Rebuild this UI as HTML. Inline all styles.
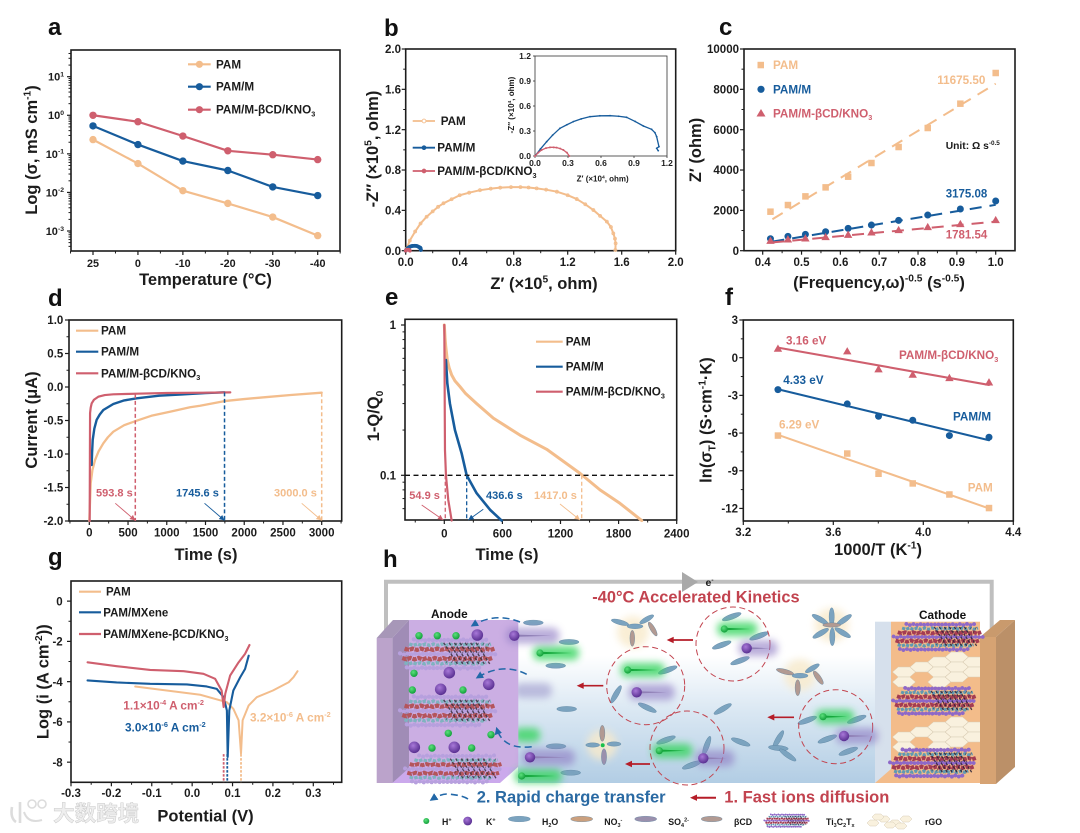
<!DOCTYPE html>
<html lang="en">
<head>
<meta charset="utf-8">
<title>Electrochemical characterisation figure</title>
<style>
html,body{margin:0;padding:0;background:#fff;width:1080px;height:833px;overflow:hidden}
svg{display:block;filter:blur(.35px)}
text{font-family:"Liberation Sans","Noto Sans CJK SC",sans-serif;font-weight:bold}
</style>
</head>
<body>
<svg id="figure" xmlns="http://www.w3.org/2000/svg" width="1080" height="833" viewBox="0 0 1080 833">
  <defs>
    <marker id="arO" markerWidth="7" markerHeight="7" refX="6" refY="3" orient="auto"><path d="M0 0L6 3L0 6Z" fill="#f3bd8c"/></marker>
    <marker id="arB" markerWidth="7" markerHeight="7" refX="6" refY="3" orient="auto"><path d="M0 0L6 3L0 6Z" fill="#175c9c"/></marker>
    <marker id="arR" markerWidth="7" markerHeight="7" refX="6" refY="3" orient="auto"><path d="M0 0L6 3L0 6Z" fill="#cf5f6e"/></marker>
    <marker id="arD" markerWidth="6" markerHeight="6" refX="4" refY="2.5" orient="auto"><path d="M0 0L5 2.5L0 5Z" fill="#2268a8"/></marker>
    <linearGradient id="bgGrad" x1="0" y1="0" x2="0" y2="1">
      <stop offset="0" stop-color="#ffffff"/><stop offset=".22" stop-color="#ffffff"/><stop offset=".55" stop-color="#dbe8f3"/><stop offset="1" stop-color="#b2cde4"/>
    </linearGradient>
    <radialGradient id="gDot" cx=".4" cy=".35" r=".7"><stop offset="0" stop-color="#5be07c"/><stop offset="1" stop-color="#0c9a35"/></radialGradient>
    <radialGradient id="kDot" cx=".4" cy=".35" r=".7"><stop offset="0" stop-color="#a878d8"/><stop offset="1" stop-color="#532a8c"/></radialGradient>
    <filter id="soft" x="-40%" y="-80%" width="180%" height="260%"><feGaussianBlur stdDeviation="3.6"/></filter>
  </defs>
</svg>
<script>
// ---------- chart data ----------
const tempLabels = ['25','0','-10','-20','-30','-40'];
const aPam = [0.234,0.056,0.0111,0.0052,0.0023,0.00076];
const aPamM = [0.53,0.174,0.065,0.037,0.0139,0.0083];
const aPamMCd = [1,0.68,0.29,0.12,0.095,0.071];
const aYDecades = [-3,-2,-1,0,1];
const aYLabels = ['10^{-3}','10^{-2}','10^{-1}','10^{0}','10^{1}'];

const bTicks = [0,0.4,0.8,1.2,1.6,2.0];
const bTickLabels = ['0.0','0.4','0.8','1.2','1.6','2.0'];
const bPamZ = [0.007,0.03,0.07,0.11,0.155,0.2,0.24,0.28,0.34,0.40,0.47,0.55,0.63,0.70,0.78,0.85,0.91,0.97,1.04,1.12,1.2,1.267,1.33,1.39,1.44,1.49,1.52,1.538,1.55,1.555,1.553];
const bPamZ2 = [0.02,0.10,0.19,0.27,0.337,0.39,0.435,0.47,0.51,0.55,0.575,0.60,0.615,0.625,0.63,0.63,0.627,0.618,0.605,0.585,0.55,0.512,0.46,0.403,0.345,0.288,0.235,0.172,0.12,0.073,0.007];
const insetBlueZ = [0,0.05,0.106,0.16,0.227,0.29,0.348,0.42,0.5,0.59,0.682,0.76,0.833,0.91,0.985,1.06,1.09,1.106,1.127,1.106,1.12];
const insetBlueZ2 = [0,0.085,0.172,0.25,0.332,0.375,0.412,0.445,0.472,0.482,0.484,0.477,0.464,0.415,0.36,0.32,0.28,0.232,0.112,0.092,0.064];
const insetRedZ = [0,0.03,0.06,0.1,0.136,0.17,0.197,0.23,0.258,0.29,0.312];
const insetRedZ2 = [0,0.04,0.072,0.095,0.104,0.104,0.1,0.088,0.072,0.04,0];
const insetTicks = [0,0.3,0.6,0.9,1.2];
const insetTickLabels = ['0.0','0.3','0.6','0.9','1.2'];

const cFreq = [0.42,0.465,0.51,0.562,0.62,0.68,0.75,0.825,0.909,1.0];
const cPam = [1934,2264,2694,3140,3669,4347,5140,6083,7289,8810];
const cPamM = [595,710,810,942,1107,1272,1504,1768,2066,2463];
const cPamMCd = [496,562,612,678,793,909,1025,1174,1322,1521];
const cFitX = [0.425,1.0];
const cPamFit = [1560,8280];
const cPamMFit = [450,2275];
const cPamMCdFit = [410,1440];
const cXTicks = [0.4,0.5,0.6,0.7,0.8,0.9,1.0];
const cXLabels = ['0.4','0.5','0.6','0.7','0.8','0.9','1.0'];
const cYTicks = [0,2000,4000,6000,8000,10000];
const cYLabels = ['0','2000','4000','6000','8000','10000'];

const dPamT = [0,10,18,40,74,120,181,240,310,450,612,800,1041,1300,1430,1745,2000,2290,2600,3000];
const dPamI = [-2,-1.7,-1.437,-1.24,-1.09,-0.96,-0.84,-0.75,-0.667,-0.57,-0.503,-0.43,-0.369,-0.303,-0.28,-0.21,-0.18,-0.15,-0.12,-0.085];
const dPamMT = [31,36,44,65,95,135,181,310,450,612,900,1200,1500,1745];
const dPamMI = [-1.164,-0.98,-0.79,-0.62,-0.49,-0.41,-0.343,-0.254,-0.2,-0.169,-0.13,-0.11,-0.09,-0.08];
const dPamMCdT = [5,8,10,18,31,60,116,200,310,612,1000,1500,1820];
const dPamMCdI = [-2,-1,-0.39,-0.31,-0.243,-0.19,-0.145,-0.12,-0.109,-0.1,-0.09,-0.085,-0.08];
const dXTicks = [0,500,1000,1500,2000,2500,3000];
const dXLabels = ['0','500','1000','1500','2000','2500','3000'];
const dYTicks = [-2,-1.5,-1,-0.5,0,0.5,1];
const dYLabels = ['-2.0','-1.5','-1.0','-0.5','0.0','0.5','1.0'];
const dEndTimes = [593.8,1745.6,3000];
const dEndCurrents = [-0.11,-0.08,-0.085];

const ePamT = [0,8,15,31,50,76,110,162,220,334,506,782,1057,1402,1608,1815,2039];
const ePamQ = [1,0.82,0.72,0.585,0.52,0.465,0.425,0.389,0.35,0.30,0.24,0.185,0.149,0.103,0.08,0.065,0.05];
const ePamMT = [17,31,58,110,179,231,334,472,592];
const ePamMQ = [0.585,0.41,0.30,0.2,0.14,0.1,0.076,0.059,0.05];
const ePamMCdT = [0,3,5,7,17,41,76];
const ePamMCdQ = [1,0.5,0.25,0.147,0.1,0.0685,0.05];
const eXTicks = [0,600,1200,1800,2400];
const eXLabels = ['0','600','1200','1800','2400'];
const eEndTimes = [10,231,1419];

const fX = [3.354,3.662,3.801,3.953,4.116,4.292];
const fPam = [-6.2,-7.63,-9.24,-10.01,-10.89,-11.97];
const fPamM = [-2.54,-3.68,-4.66,-4.98,-6.2,-6.33];
const fPamMCd = [0.72,0.51,-0.92,-1.35,-1.61,-1.96];
const fFitX = [3.354,4.292];
const fPamFit = [-6.14,-12];
const fPamMFit = [-2.51,-6.57];
const fPamMCdFit = [0.8,-2.17];
const fXTicks = [3.2,3.6,4.0,4.4];
const fXLabels = ['3.2','3.6','4.0','4.4'];
const fYTicks = [-12,-9,-6,-3,0,3];
const fYLabels = ['-12','-9','-6','-3','0','3'];

const gPamV = [-0.141,-0.063,0.02,0.086,0.102,0.115,0.121,0.125,0.14,0.16,0.2,0.239,0.251,0.261];
const gPamL = [-4.24,-4.44,-4.65,-5.02,-5.35,-5.92,-7.57,-5.92,-5.18,-4.77,-4.44,-4.03,-3.78,-3.48];
const gPamMV = [-0.259,-0.187,-0.104,-0.013,0.036,0.061,0.078,0.086,0.088,0.092,0.102,0.119,0.131,0.14];
const gPamML = [-3.94,-4.04,-4.11,-4.14,-4.24,-4.36,-4.77,-5.43,-7.74,-5.43,-4.44,-3.78,-3.37,-2.71];
const gPamMCdV = [-0.259,-0.187,-0.104,-0.021,0.028,0.057,0.073,0.078,0.082,0.094,0.115,0.131,0.142];
const gPamMCdL = [-3.04,-3.23,-3.42,-3.48,-3.61,-3.86,-4.44,-5.26,-4.6,-3.7,-3.04,-2.62,-2.18];
const gEcorr = [0.121,0.087,0.078];
const gXTicks = [-0.3,-0.2,-0.1,0,0.1,0.2,0.3];
const gXLabels = ['-0.3','-0.2','-0.1','0.0','0.1','0.2','0.3'];
const gYTicks = [-8,-6,-4,-2,0];
const gYLabels = ['-8','-6','-4','-2','0'];

// ---------- helpers ----------
const NS = 'http://www.w3.org/2000/svg';
const root = document.getElementById('figure');
const ORANGE = '#f3bd8c', BLUE = '#175c9c', RED = '#cf5f6e', INK = '#1c1c1c';

function el(tag, attrs, parent, name) {
  const e = document.createElementNS(NS, tag);
  for (const k in attrs) e.setAttribute(k, attrs[k]);
  
  
  (parent || root).appendChild(e);
  return e;
}
function linear(d0, d1, r0, r1) { return v => r0 + (v - d0) / (d1 - d0) * (r1 - r0); }
function logY(d0, d1, r0, r1) { return v => r0 + (Math.log10(v) - Math.log10(d0)) / (Math.log10(d1) - Math.log10(d0)) * (r1 - r0); }

function txt(parent, x, y, str, o, name) {
  o = o || {};
  const size = o.size || 11.5;
  const a = { x: x, y: y, 'font-size': size, fill: o.color || INK, 'text-anchor': o.anchor || 'start' };
  if (o.rot) a.transform = 'rotate(' + o.rot + ' ' + x + ' ' + y + ')';
  if (o.len) { a.textLength = o.len; a.lengthAdjust = 'spacingAndGlyphs'; }
  const t = el('text', a, parent, name);
  const parts = str.split(/(\^\{[^}]*\}|_\{[^}]*\})/).filter(s => s.length);
  let cur = 0;
  parts.forEach(p => {
    let target = 0, s = p, fs = size;
    if (p[0] === '^' && p[1] === '{') { target = -0.38 * size; s = p.slice(2, -1); fs = size * 0.62; }
    else if (p[0] === '_' && p[1] === '{') { target = 0.24 * size; s = p.slice(2, -1); fs = size * 0.62; }
    const sp = el('tspan', { dy: (target - cur).toFixed(2), 'font-size': fs.toFixed(2) }, t, name + '-part');
    sp.textContent = s;
    cur = target;
  });
  return t;
}
function panel(name, l, t, r, b, sw) {
  const g = el('g', {}, root, name);
  el('rect', { x: l, y: t, width: r - l, height: b - t, fill: 'none', stroke: INK, 'stroke-width': sw || 1.6 }, g, name + '-frame');
  return g;
}
function xTicks(g, sx, vals, labels, yB, baseline, size, pre) {
  vals.forEach((v, i) => {
    el('line', { x1: sx(v), x2: sx(v), y1: yB, y2: yB + 4, stroke: INK, 'stroke-width': 1.2 }, g, pre + '-x-tick');
    txt(g, sx(v), baseline, labels[i], { size: size || 11.5, anchor: 'middle' }, pre + '-x-tick-label');
  });
}
function yTicks(g, sy, vals, labels, xL, labelX, size, pre) {
  vals.forEach((v, i) => {
    el('line', { x1: xL, x2: xL - 4, y1: sy(v), y2: sy(v), stroke: INK, 'stroke-width': 1.2 }, g, pre + '-y-tick');
    txt(g, labelX, sy(v) + (size || 11.5) * 0.36, labels[i], { size: size || 11.5, anchor: 'end' }, pre + '-y-tick-label');
  });
}
function xMinor(g, sx, vals, yB, pre) {
  vals.forEach(v => { el('line', { x1: sx(v), x2: sx(v), y1: yB, y2: yB + 2.5, stroke: INK, 'stroke-width': 1 }, g, pre + '-x-minor-tick'); });
}
function yMinor(g, sy, vals, xL, pre) {
  vals.forEach(v => { el('line', { x1: xL, x2: xL - 2.5, y1: sy(v), y2: sy(v), stroke: INK, 'stroke-width': 1 }, g, pre + '-y-minor-tick'); });
}
function pathOf(xs, ys, sx, sy) { return xs.map((x, i) => sx(x).toFixed(2) + ',' + sy(ys[i]).toFixed(2)).join(' '); }
function series(g, xs, ys, sx, sy, color, w, name, extra) {
  const a = { points: pathOf(xs, ys, sx, sy), fill: 'none', stroke: color, 'stroke-width': w, 'stroke-linejoin': 'round', 'stroke-linecap': 'round' };
  if (extra) for (const k in extra) a[k] = extra[k];
  return el('polyline', a, g, name);
}
function dots(g, xs, ys, sx, sy, color, r, name, hollow) {
  xs.forEach((x, i) => {
    el('circle', { cx: sx(x), cy: sy(ys[i]), r: r, fill: hollow ? 'none' : color, stroke: color, 'stroke-width': hollow ? 0.8 : 0 }, g, name);
  });
}
function squares(g, xs, ys, sx, sy, color, s, name) {
  xs.forEach((x, i) => {
    el('rect', { x: sx(x) - s / 2, y: sy(ys[i]) - s / 2, width: s, height: s, fill: color }, g, name);
  });
}
function triangles(g, xs, ys, sx, sy, color, s, name) {
  xs.forEach((x, i) => {
    const cx = sx(x), cy = sy(ys[i]);
    el('polygon', { points: cx + ',' + (cy - s * 0.6) + ' ' + (cx - s * 0.6) + ',' + (cy + s * 0.45) + ' ' + (cx + s * 0.6) + ',' + (cy + s * 0.45), fill: color }, g, name);
  });
}
function legendRow(g, x1, x2, y, color, label, textX, w, size, name) {
  el('line', { x1: x1, x2: x2, y1: y, y2: y, stroke: color, 'stroke-width': w }, g, name + '-swatch');
  txt(g, textX, y + 4, label, { size: size || 11.7 }, name + '-label');
}

// ---------- panel letters ----------
[['a',48,35],['b',384,36],['c',719,35],['d',48,306],['e',385,305],['f',725,305],['g',48,565],['h',383,567]].forEach(p => {
  txt(root, p[1], p[2], p[0], { size: 24, color: '#111' }, 'panel-letter-' + p[0]);
});

// ---------- panel a ----------
(function () {
  const g = panel('panel-a-conductivity', 71, 50, 340, 251);
  const sx = linear(0, 5, 93, 317.7);
  const sy = logY(1e-3, 10, 231, 76.7);
  const idx = tempLabels.map((_, i) => i);
  xTicks(g, sx, idx, tempLabels, 251, 267, 10.8, 'a');
  xMinor(g, sx, [-0.5,0.5,1.5,2.5,3.5,4.5,5.5], 251, 'a');
  yTicks(g, sy, aYDecades.map(d => Math.pow(10, d)), aYLabels, 71, 64, 11, 'a');
  const minor = [];
  [-4,-3,-2,-1,0,1].forEach(d => { [2,3,4,5,6,7,8,9].forEach(m => { const v = m * Math.pow(10, d); if (sy(v) < 251 && sy(v) > 50) minor.push(v); }); });
  yMinor(g, sy, minor, 71, 'a');
  [[aPam, ORANGE, 'pam'], [aPamM, BLUE, 'pam-m'], [aPamMCd, RED, 'pam-m-bcd-kno3']].forEach(s => {
    series(g, idx, s[0], sx, sy, s[1], 2.2, 'a-' + s[2] + '-line');
    dots(g, idx, s[0], sx, sy, s[1], 3.7, 'a-' + s[2] + '-point');
  });
  [[64.3, ORANGE, 'PAM'], [86.7, BLUE, 'PAM/M'], [109.7, RED, 'PAM/M-βCD/KNO_{3}']].forEach(r => {
    legendRow(g, 188, 210.7, r[0], r[1], r[2], 216, 2.2, 11.7, 'a-legend-entry');
    el('circle', { cx: 199.4, cy: r[0], r: 3.6, fill: r[1] }, g, 'a-legend-marker');
  });
  txt(g, 37, 150, 'Log (σ, mS cm^{-1})', { size: 16.5, anchor: 'middle', rot: -90 }, 'a-y-axis-title');
  txt(g, 205.5, 285, 'Temperature (°C)', { size: 16.5, anchor: 'middle' }, 'a-x-axis-title');
})();

// ---------- panel b ----------
(function () {
  const g = panel('panel-b-nyquist', 405.7, 49, 675.7, 250.7);
  const sx = linear(0, 2, 405.7, 675.7);
  const sy = linear(0, 2, 250.7, 49);
  xTicks(g, sx, bTicks, bTickLabels, 250.7, 266, 11.5, 'b');
  yTicks(g, sy, bTicks, bTickLabels, 405.7, 401, 11.5, 'b');
  yMinor(g, sy, [0.2,0.6,1.0,1.4,1.8], 405.7, 'b');
  xMinor(g, sx, [0.2,0.6,1.0,1.4,1.8], 250.7, 'b');
  series(g, bPamZ, bPamZ2, sx, sy, ORANGE, 2, 'b-pam-line');
  dots(g, bPamZ, bPamZ2, sx, sy, ORANGE, 1.5, 'b-pam-point', true);
  const bz = insetBlueZ.map(v => v / 10), bz2 = insetBlueZ2.map(v => v / 10);
  const rz = insetRedZ.map(v => v / 10), rz2 = insetRedZ2.map(v => v / 10);
  series(g, bz, bz2, sx, sy, BLUE, 1.8, 'b-pam-m-line');
  dots(g, bz, bz2, sx, sy, BLUE, 1.5, 'b-pam-m-point', true);
  series(g, rz, rz2, sx, sy, RED, 1.8, 'b-pam-m-bcd-line');
  dots(g, rz, rz2, sx, sy, RED, 1.4, 'b-pam-m-bcd-point', true);
  [[121, ORANGE, 'PAM', 440.7], [147.7, BLUE, 'PAM/M', 437.3], [171, RED, 'PAM/M-βCD/KNO_{3}', 437.3]].forEach(r => {
    legendRow(g, 412.7, 435, r[0], r[1], r[2], r[3], 1.8, 11.7, 'b-legend-entry');
    el('circle', { cx: 424, cy: r[0], r: 1.9, fill: r[1] === ORANGE ? '#fff' : r[1], stroke: r[1], 'stroke-width': 0.9 }, g, 'b-legend-marker');
  });
  txt(g, 378, 149, '-Z″ (×10^{5}, ohm)', { size: 16.5, anchor: 'middle', rot: -90 }, 'b-y-axis-title');
  txt(g, 544, 289, 'Z′ (×10^{5}, ohm)', { size: 16.5, anchor: 'middle' }, 'b-x-axis-title');

  const inset = el('g', {}, g, 'b-inset');
  el('rect', { x: 535, y: 56, width: 132, height: 100, fill: 'none', stroke: '#333', 'stroke-width': 0.8 }, inset, 'b-inset-frame');
  const ix = linear(0, 1.2, 535, 667), iy = linear(0, 1.2, 156, 56);
  insetTicks.forEach((v, i) => {
    el('line', { x1: ix(v), x2: ix(v), y1: 156, y2: 158, stroke: '#333', 'stroke-width': 0.8 }, inset, 'b-inset-x-tick');
    txt(inset, ix(v), 166, insetTickLabels[i], { size: 8.5, anchor: 'middle' }, 'b-inset-x-tick-label');
    el('line', { x1: 533, x2: 535, y1: iy(v), y2: iy(v), stroke: '#333', 'stroke-width': 0.8 }, inset, 'b-inset-y-tick');
    txt(inset, 531, iy(v) + 3, insetTickLabels[i], { size: 8.5, anchor: 'end' }, 'b-inset-y-tick-label');
  });
  series(inset, insetBlueZ, insetBlueZ2, ix, iy, BLUE, 1.3, 'b-inset-pam-m-line');
  dots(inset, insetBlueZ, insetBlueZ2, ix, iy, BLUE, 0.9, 'b-inset-pam-m-point');
  series(inset, insetRedZ, insetRedZ2, ix, iy, RED, 1.3, 'b-inset-pam-m-bcd-line');
  dots(inset, insetRedZ, insetRedZ2, ix, iy, RED, 1, 'b-inset-pam-m-bcd-point');
  txt(inset, 602.7, 181.5, 'Z′ (×10^{4}, ohm)', { size: 8, anchor: 'middle' }, 'b-inset-x-title');
  txt(inset, 514, 105, '-Z″ (×10^{4}, ohm)', { size: 8, anchor: 'middle', rot: -90 }, 'b-inset-y-title');
})();

// ---------- panel c ----------
(function () {
  const g = panel('panel-c-warburg', 744, 49, 1015, 250.7);
  const sx = linear(0.4, 1.0, 762.7, 995.7);
  const sy = linear(0, 10000, 250.7, 49);
  xTicks(g, sx, cXTicks, cXLabels, 250.7, 266, 11.5, 'c');
  xMinor(g, sx, [0.45,0.55,0.65,0.75,0.85,0.95], 250.7, 'c');
  yTicks(g, sy, cYTicks, cYLabels, 744, 739, 11.5, 'c');
  yMinor(g, sy, [1000,3000,5000,7000,9000], 744, 'c');
  const dash = { 'stroke-dasharray': '12 8', 'stroke-linecap': 'butt' };
  series(g, cFitX, cPamFit, sx, sy, ORANGE, 2, 'c-pam-fit-line', dash);
  series(g, cFitX, cPamMFit, sx, sy, BLUE, 2, 'c-pam-m-fit-line', dash);
  series(g, cFitX, cPamMCdFit, sx, sy, RED, 2, 'c-pam-m-bcd-fit-line', dash);
  squares(g, cFreq, cPam, sx, sy, ORANGE, 6.5, 'c-pam-point');
  dots(g, cFreq, cPamM, sx, sy, BLUE, 3.5, 'c-pam-m-point');
  triangles(g, cFreq, cPamMCd, sx, sy, RED, 7, 'c-pam-m-bcd-point');
  el('rect', { x: 757.5, y: 61.8, width: 6.5, height: 6.5, fill: ORANGE }, g, 'c-legend-marker');
  el('circle', { cx: 761, cy: 89.3, r: 3.6, fill: BLUE }, g, 'c-legend-marker');
  el('polygon', { points: '761,109 756.5,116.5 765.5,116.5', fill: RED }, g, 'c-legend-marker');
  txt(g, 773, 69, 'PAM', { size: 11.7, color: ORANGE }, 'c-legend-label');
  txt(g, 773, 93.3, 'PAM/M', { size: 11.7, color: BLUE }, 'c-legend-label');
  txt(g, 773, 117.3, 'PAM/M-βCD/KNO_{3}', { size: 11.7, color: RED }, 'c-legend-label');
  txt(g, 937.3, 84, '11675.50', { size: 11.7, color: ORANGE }, 'c-slope-pam');
  txt(g, 945.7, 197.3, '3175.08', { size: 11.5, color: BLUE }, 'c-slope-pam-m');
  txt(g, 945.7, 238.3, '1781.54', { size: 11.5, color: RED }, 'c-slope-pam-m-bcd');
  txt(g, 945.7, 149, 'Unit: Ω s^{-0.5}', { size: 10.3 }, 'c-unit-note');
  txt(g, 701, 150, 'Z′ (ohm)', { size: 16.5, anchor: 'middle', rot: -90 }, 'c-y-axis-title');
  txt(g, 879, 288, '(Frequency,ω)^{-0.5} (s^{-0.5})', { size: 16.5, anchor: 'middle' }, 'c-x-axis-title');
})();

// ---------- panel d ----------
(function () {
  const g = panel('panel-d-current', 69, 320, 341.7, 521);
  const sx = linear(0, 3000, 89.3, 321.7);
  const sy = linear(-2, 1, 521, 320);
  xTicks(g, sx, dXTicks, dXLabels, 521, 536.7, 11.5, 'd');
  xMinor(g, sx, [-250,250,750,1250,1750,2250,2750,3250], 521, 'd');
  yTicks(g, sy, dYTicks, dYLabels, 69, 63.3, 11.5, 'd');
  yMinor(g, sy, [-1.75,-1.25,-0.75,-0.25,0.25,0.75], 69, 'd');
  series(g, dPamT, dPamI, sx, sy, ORANGE, 2.3, 'd-pam-line');
  series(g, dPamMT, dPamMI, sx, sy, BLUE, 2.4, 'd-pam-m-line');
  series(g, dPamMCdT, dPamMCdI, sx, sy, RED, 2.2, 'd-pam-m-bcd-line');
  const cols = [RED, BLUE, ORANGE], marks = ['url(#arR)', 'url(#arB)', 'url(#arO)'];
  const labels = ['593.8 s', '1745.6 s', '3000.0 s'], lx = [96, 176, 274];
  dEndTimes.forEach((t, i) => {
    el('line', { x1: sx(t), x2: sx(t), y1: sy(dEndCurrents[i]), y2: 521, stroke: cols[i], 'stroke-width': 1.5, 'stroke-dasharray': '4 2.5' }, g, 'd-end-time-guide');
    el('line', { x1: sx(t) - 20, y1: 503.3, x2: sx(t), y2: 520.5, stroke: cols[i], 'stroke-width': 0.9, 'marker-end': marks[i] }, g, 'd-end-time-arrow');
    txt(g, lx[i], 496.7, labels[i], { size: 11, color: cols[i] }, 'd-end-time-label');
  });
  [[330.7, ORANGE, 'PAM'], [351.7, BLUE, 'PAM/M'], [373.3, RED, 'PAM/M-βCD/KNO_{3}']].forEach(r => {
    legendRow(g, 76, 98.3, r[0], r[1], r[2], 101, 2.2, 11.7, 'd-legend-entry');
  });
  txt(g, 37, 420, 'Current (μA)', { size: 16.5, anchor: 'middle', rot: -90 }, 'd-y-axis-title');
  txt(g, 206, 560, 'Time (s)', { size: 16.5, anchor: 'middle' }, 'd-x-axis-title');
})();

// ---------- panel e ----------
(function () {
  const g = panel('panel-e-self-discharge', 405, 319.3, 676.7, 520);
  const sx = linear(0, 2400, 444.3, 676.7);
  const sy = logY(0.1, 1, 475.3, 325);
  xTicks(g, sx, eXTicks, eXLabels, 520, 537.3, 11.5, 'e');
  xMinor(g, sx, [-300,300,900,1500,2100], 520, 'e');
  yTicks(g, sy, [0.1, 1], ['0.1', '1'], 405, 396, 11.5, 'e');
  yMinor(g, sy, [0.06,0.07,0.08,0.09,0.2,0.3,0.4,0.5,0.6,0.7,0.8,0.9], 405, 'e');
  series(g, ePamT, ePamQ, sx, sy, ORANGE, 3, 'e-pam-line');
  series(g, ePamMT, ePamMQ, sx, sy, BLUE, 2.6, 'e-pam-m-line');
  series(g, ePamMCdT, ePamMCdQ, sx, sy, RED, 2.2, 'e-pam-m-bcd-line');
  el('line', { x1: 405, x2: 676.7, y1: sy(0.1), y2: sy(0.1), stroke: '#111', 'stroke-width': 1.3, 'stroke-dasharray': '5 3.5' }, g, 'e-threshold-line');
  const cols = [RED, BLUE, ORANGE], marks = ['url(#arR)', 'url(#arB)', 'url(#arO)'];
  eEndTimes.forEach((t, i) => {
    el('line', { x1: sx(t), x2: sx(t), y1: sy(0.1), y2: 520, stroke: cols[i], 'stroke-width': 1.3, 'stroke-dasharray': '4 2.5' }, g, 'e-time-guide');
  });
  el('line', { x1: 421.7, y1: 505, x2: 443.3, y2: 520, stroke: RED, 'stroke-width': 0.9, 'marker-end': marks[0] }, g, 'e-time-arrow');
  el('line', { x1: 483.3, y1: 509.3, x2: 468.3, y2: 520, stroke: BLUE, 'stroke-width': 0.9, 'marker-end': marks[1] }, g, 'e-time-arrow');
  el('line', { x1: 560, y1: 504, x2: 580, y2: 520, stroke: ORANGE, 'stroke-width': 0.9, 'marker-end': marks[2] }, g, 'e-time-arrow');
  txt(g, 409.3, 499, '54.9 s', { size: 11, color: RED }, 'e-time-label');
  txt(g, 486, 499, '436.6 s', { size: 11, color: BLUE }, 'e-time-label');
  txt(g, 534, 499, '1417.0 s', { size: 11, color: ORANGE }, 'e-time-label');
  [[341.7, ORANGE, 'PAM'], [366.7, BLUE, 'PAM/M'], [391.7, RED, 'PAM/M-βCD/KNO_{3}']].forEach(r => {
    legendRow(g, 536, 562.7, r[0], r[1], r[2], 565.7, 2.2, 11.7, 'e-legend-entry');
  });
  txt(g, 379, 416, '1-Q/Q_{0}', { size: 16.5, anchor: 'middle', rot: -90 }, 'e-y-axis-title');
  txt(g, 507, 560, 'Time (s)', { size: 16.5, anchor: 'middle' }, 'e-x-axis-title');
})();

// ---------- panel f ----------
(function () {
  const g = panel('panel-f-arrhenius', 743.3, 320, 1013.3, 521);
  const sx = linear(3.2, 4.4, 743.3, 1013.3);
  const sy = linear(-13, 3, 521, 320);
  xTicks(g, sx, fXTicks, fXLabels, 521, 536, 11.5, 'f');
  xMinor(g, sx, [3.4,3.8,4.2], 521, 'f');
  yTicks(g, sy, fYTicks, fYLabels, 743.3, 738, 11.5, 'f');
  yMinor(g, sy, [-10.5,-7.5,-4.5,-1.5,1.5], 743.3, 'f');
  series(g, fFitX, fPamFit, sx, sy, ORANGE, 2.1, 'f-pam-fit-line');
  series(g, fFitX, fPamMFit, sx, sy, BLUE, 2.1, 'f-pam-m-fit-line');
  series(g, fFitX, fPamMCdFit, sx, sy, RED, 2.1, 'f-pam-m-bcd-fit-line');
  squares(g, fX, fPam, sx, sy, ORANGE, 6.5, 'f-pam-point');
  dots(g, fX, fPamM, sx, sy, BLUE, 3.5, 'f-pam-m-point');
  triangles(g, fX, fPamMCd, sx, sy, RED, 7, 'f-pam-m-bcd-point');
  txt(g, 786, 344.3, '3.16 eV', { size: 11.7, color: RED }, 'f-activation-energy');
  txt(g, 783.3, 384, '4.33 eV', { size: 11.7, color: BLUE }, 'f-activation-energy');
  txt(g, 779, 428.3, '6.29 eV', { size: 11.7, color: ORANGE }, 'f-activation-energy');
  txt(g, 899, 359, 'PAM/M-βCD/KNO_{3}', { size: 11.7, color: RED }, 'f-series-label');
  txt(g, 953, 420.7, 'PAM/M', { size: 11.7, color: BLUE }, 'f-series-label');
  txt(g, 967.7, 491.7, 'PAM', { size: 11.7, color: ORANGE }, 'f-series-label');
  txt(g, 711.7, 420, 'ln(σ_{T}) (S·cm^{-1}·K)', { size: 16.5, anchor: 'middle', rot: -90 }, 'f-y-axis-title');
  txt(g, 878, 555, '1000/T (K^{-1})', { size: 16.5, anchor: 'middle' }, 'f-x-axis-title');
})();

// ---------- panel g ----------
(function () {
  const g = panel('panel-g-tafel', 71, 581, 341.7, 782.3);
  const sx = linear(-0.3, 0.3, 71, 313.3);
  const sy = linear(-9, 1, 782.3, 581);
  xTicks(g, sx, gXTicks, gXLabels, 782.3, 797, 11.5, 'g');
  xMinor(g, sx, [-0.25,-0.15,-0.05,0.05,0.15,0.25,0.35], 782.3, 'g');
  yTicks(g, sy, gYTicks, gYLabels, 71, 62.7, 11.5, 'g');
  yMinor(g, sy, [-7,-5,-3,-1], 71, 'g');
  const cols = [ORANGE, BLUE, RED];
  gEcorr.forEach((v, i) => {
    el('line', { x1: sx(v), x2: sx(v), y1: sy(-7.6), y2: 782.3, stroke: cols[i], 'stroke-width': 1.8, 'stroke-dasharray': '2.5 1.5' }, g, 'g-ecorr-guide');
  });
  series(g, gPamV, gPamL, sx, sy, ORANGE, 2, 'g-pam-line');
  series(g, gPamMV, gPamML, sx, sy, BLUE, 2.1, 'g-pam-m-line');
  series(g, gPamMCdV, gPamMCdL, sx, sy, RED, 2.1, 'g-pam-m-bcd-line');
  legendRow(g, 79, 101, 591.7, ORANGE, 'PAM', 106, 2.2, 11.5, 'g-legend-entry');
  legendRow(g, 79, 101, 612.3, BLUE, 'PAM/MXene', 103.3, 2.2, 11.5, 'g-legend-entry');
  legendRow(g, 79, 101, 634, RED, 'PAM/MXene-βCD/KNO_{3}', 103.3, 2.2, 11.5, 'g-legend-entry');
  txt(g, 123.3, 709.3, '1.1×10^{-4} A cm^{-2}', { size: 11.8, color: RED }, 'g-current-density-label');
  txt(g, 125, 731.7, '3.0×10^{-6} A cm^{-2}', { size: 11.8, color: BLUE }, 'g-current-density-label');
  txt(g, 250, 721.7, '3.2×10^{-6} A cm^{-2}', { size: 11.8, color: ORANGE }, 'g-current-density-label');
  txt(g, 48.5, 681.7, 'Log (i (A cm^{-2}))', { size: 16.5, anchor: 'middle', rot: -90 }, 'g-y-axis-title');
  txt(g, 205.5, 821.5, 'Potential (V)', { size: 16.5, anchor: 'middle' }, 'g-x-axis-title');
})();

// ---------- panel h (schematic) ----------
(function () {
  const g = el('g', {}, root, 'panel-h-schematic');
  const BW = '#7ba3bf', BR = '#b29a92', PU = '#9a90ad';

  function mxene(cx, cy, w, h, name, pal) {
    const m = el('g', {}, g, name);
    const rows = [[pal.lilac,'bead'],[pal.teal,'dash'],[pal.red,'bar'],[pal.lilac,'bead'],[pal.red,'bar'],[pal.teal,'dash'],[pal.lilac,'bead']];
    rows.forEach((r, i) => {
      const y = cy - h / 2 + i * h / 6;
      const inset = Math.abs(i - 3) * w * 0.035;
      const sh = (3 - i) * w * 0.012;
      const pts = [];
      for (let k = 0, x = cx - w / 2 + inset + sh; x <= cx + w / 2 - inset + sh; x += w / 24, k++) {
        pts.push(x.toFixed(1) + ',' + (y + (k % 2 ? h * 0.025 : -h * 0.025)).toFixed(1));
      }
      const a = { points: pts.join(' '), fill: 'none', stroke: r[0] };
      if (r[1] === 'bead') { a['stroke-width'] = h * 0.15; a['stroke-linecap'] = 'round'; a['stroke-dasharray'] = '0.1 ' + (w / 25).toFixed(2); }
      else if (r[1] === 'dash') { a['stroke-width'] = h * 0.12; a['stroke-dasharray'] = (w / 28).toFixed(2) + ' ' + (w / 80).toFixed(2); }
      else { a['stroke-width'] = h * 0.15; a['stroke-dasharray'] = (w / 22).toFixed(2) + ' ' + (w / 110).toFixed(2); }
      el('polyline', a, m, name + '-row');
    });
    for (let k = 0; k < 7; k++) {
      const x = cx + w * 0.02 + k * w * 0.055;
      el('line', { x1: x - h * 0.26, y1: cy - h * 0.4, x2: x + h * 0.26, y2: cy + h * 0.4, stroke: pal.dark, 'stroke-width': h * 0.05, 'stroke-dasharray': (h * 0.1).toFixed(2) + ' ' + (h * 0.06).toFixed(2), opacity: 0.85 }, m, name + '-bond');
      el('line', { x1: x + h * 0.22, y1: cy - h * 0.4, x2: x - h * 0.22, y2: cy + h * 0.4, stroke: pal.dark, 'stroke-width': h * 0.035, 'stroke-dasharray': (h * 0.1).toFixed(2) + ' ' + (h * 0.08).toFixed(2), opacity: 0.55 }, m, name + '-bond');
    }
  }
  const anodePal = { lilac: '#b7a0de', teal: '#7fb2c0', red: '#b4555c', dark: '#3a3040' };
  const cathodePal = { lilac: '#8e68c8', teal: '#5f9ab2', red: '#a43c52', dark: '#2a2136' };

  function hex(parent, x, y, w, h, name) {
    const q = w * 0.25;
    el('polygon', { points: [[x - w / 2, y], [x - q, y - h / 2], [x + q, y - h / 2], [x + w / 2, y], [x + q, y + h / 2], [x - q, y + h / 2]].map(p => p.join(',')).join(' '), fill: '#f9f1de', stroke: '#d8cdb6', 'stroke-width': 0.5 }, parent, name);
  }
  function rgo(cy, name) {
    const m = el('g', {}, g, name);
    for (let c = 0; c < 6; c++) {
      for (let r = -1; r <= 1; r++) {
        if ((r === -1 && c < 2) || (r === 1 && c > 3) || (r === 1 && c === 1)) continue;
        const x = 904 + c * 17.6;
        hex(m, x, cy + r * 10 + (c % 2 ? -1 : 4), 23, 10, name + '-hexagon');
      }
    }
  }
  function water(list, fill, name) {
    list.forEach(w => {
      el('ellipse', { cx: w[0], cy: w[1], rx: w[3] || 10, ry: w[4] || 2.6, fill: w[5] || fill, stroke: '#567e9c', 'stroke-width': 0.35, transform: 'rotate(' + w[2] + ' ' + w[0] + ' ' + w[1] + ')' }, g, name);
    });
  }
  function hIon(x, y, tail) {
    const i = el('g', {}, g, 'proton-ion');
    el('rect', { x: x - 7, y: y - 7, width: tail + 14, height: 14, rx: 6, fill: '#38d560', opacity: 0.8, filter: 'url(#soft)' }, i, 'proton-glow');
    el('polygon', { points: x + ',' + (y - 1.2) + ' ' + (x + tail) + ',' + y + ' ' + x + ',' + (y + 1.2), fill: '#15a83c' }, i, 'proton-tail');
    el('circle', { cx: x, cy: y, r: 3.6, fill: 'url(#gDot)' }, i, 'proton-dot');
  }
  function kIon(x, y, tail) {
    const i = el('g', {}, g, 'potassium-ion');
    el('rect', { x: x - 8, y: y - 8, width: tail + 16, height: 16, rx: 7, fill: '#8c78c2', opacity: 0.6, filter: 'url(#soft)' }, i, 'potassium-glow');
    el('polygon', { points: x + ',' + (y - 1.2) + ' ' + (x + tail) + ',' + y + ' ' + x + ',' + (y + 1.2), fill: '#8f7fb5' }, i, 'potassium-tail');
    el('circle', { cx: x, cy: y, r: 5.2, fill: 'url(#kDot)' }, i, 'potassium-dot');
  }
  function redArrow(x1, x2, y, w) {
    const dir = x2 < x1 ? 1 : -1;
    el('line', { x1: x1, x2: x2 + dir * 5, y1: y, y2: y, stroke: '#b51d28', 'stroke-width': w || 1.7 }, g, 'diffusion-arrow-shaft');
    el('polygon', { points: x2 + ',' + y + ' ' + (x2 + dir * 7) + ',' + (y - 3.2) + ' ' + (x2 + dir * 7) + ',' + (y + 3.2), fill: '#b51d28' }, g, 'diffusion-arrow-head');
  }

  el('rect', { x: 518, y: 620, width: 357, height: 163, fill: 'url(#bgGrad)' }, g, 'electrolyte-background');
  el('rect', { x: 514, y: 683, width: 38, height: 15, rx: 7, fill: '#8c86c2', opacity: 0.5, filter: 'url(#soft)' }, g, 'potassium-glow-partial');
  el('rect', { x: 514, y: 728, width: 26, height: 14, rx: 6, fill: '#38d560', opacity: 0.8, filter: 'url(#soft)' }, g, 'proton-glow-partial');

  // wire
  el('polyline', { points: '386,636 386,581.7 991.7,581.7 991.7,634', fill: 'none', stroke: '#bfbfbf', 'stroke-width': 4 }, g, 'external-circuit-wire');
  el('polygon', { points: '682,572 682,592 698,582', fill: '#a9a9a9' }, g, 'circuit-arrow-head');
  txt(g, 705.5, 586, 'e^{-}', { size: 10.5 }, 'electron-label');

  // anode
  el('polygon', { points: '392,783 409,767 518,767 500,783', fill: '#cba9ec' }, g, 'anode-floor');
  el('polygon', { points: '376.7,638 392.3,638 409,620 393,620', fill: '#a797b8' }, g, 'anode-top-face');
  el('polygon', { points: '392.3,638 409,620 409,768 392.3,783', fill: '#a08cb6' }, g, 'anode-side-face');
  el('rect', { x: 376.7, y: 638, width: 15.6, height: 145, fill: '#bba3cb' }, g, 'anode-front-face');
  el('rect', { x: 409, y: 620, width: 109.3, height: 147, fill: '#cbaee3' }, g, 'anode-plate');
  mxene(449, 654, 98, 28, 'anode-mxene-layer', anodePal);
  mxene(449, 711, 98, 28, 'anode-mxene-layer', anodePal);
  mxene(455, 769, 100, 26, 'anode-mxene-layer', anodePal);
  [[419,635.7],[437.3,635.7],[456,635.7],[414,673.3],[412.3,690],[463,690],[448.3,733.3],[491,734.7],[432,748],[471.7,748]].forEach(p => {
    el('circle', { cx: p[0], cy: p[1], r: 3.7, fill: 'url(#gDot)' }, g, 'anode-proton');
  });
  [[477.3,635],[449.3,672.7],[440.7,689.3],[488.7,684.3],[414.3,747.3],[454.3,747.3]].forEach(p => {
    el('circle', { cx: p[0], cy: p[1], r: 5.8, fill: 'url(#kDot)' }, g, 'anode-potassium');
  });
  txt(g, 431, 618, 'Anode', { size: 11.8, color: '#111' }, 'anode-label');

  // cathode
  el('rect', { x: 875, y: 621.7, width: 16, height: 161.3, fill: '#d6e0ec' }, g, 'cathode-separator');
  el('polygon', { points: '875,783 891,769 891,783', fill: '#f3bc8a' }, g, 'cathode-floor');
  el('rect', { x: 891, y: 621.7, width: 89, height: 161.3, fill: '#f3bc8a' }, g, 'cathode-plate');
  rgo(668, 'cathode-rgo-sheet');
  rgo(733, 'cathode-rgo-sheet');
  el('polygon', { points: '980,637 996,637 1015,620 1000,620', fill: '#c99a6d' }, g, 'cathode-top-face');
  el('polygon', { points: '996,637 1015,620 1015,767 996,784', fill: '#bb9068' }, g, 'cathode-side-face');
  el('rect', { x: 980, y: 637, width: 16, height: 147, fill: '#d6a373' }, g, 'cathode-front-face');
  mxene(939, 637, 91, 25, 'cathode-mxene-layer', cathodePal);
  mxene(936, 701, 86, 25, 'cathode-mxene-layer', cathodePal);
  mxene(934.5, 763, 89, 26, 'cathode-mxene-layer', cathodePal);
  txt(g, 919, 619, 'Cathode', { size: 11.8, color: '#111' }, 'cathode-label');

  // solvation-cluster glows
  [[633,632,16],[602,745,15],[831.7,625,17],[800,675,16]].forEach(c => {
    el('circle', { cx: c[0], cy: c[1], r: c[2], fill: '#f8eacb', opacity: 0.8, filter: 'url(#soft)' }, g, 'solvation-cluster-glow');
  });

  water([[533.3,622.7,0],[569,642,0],[555.7,665.7,0],[667.7,670,-20],[616,694.3,-60],[647.3,707.7,25],[566.7,709,0],[556,746.3,0],[570.7,772.7,0],[666,740,-20],[691.7,765,-20],
         [731.7,616.7,-20],[759,636,-20],[721.7,645,-20],[740,660.7,-20],[722.7,709,-30],[740.7,742,20],[706.7,745.7,-70],[778.3,739.3,-60],[778.3,748,5],[787.7,755,35],[807.3,720.3,-20],[856.7,719.3,-20],[827.3,739,-20],[848.3,751.3,-20]], BW, 'water-molecule');
  water([[620,622.3,15,9,2.4],[635,626.3,0,8,2.4],[646.7,619.3,-30,8,2.4],[652.7,629,60,8,2.4,BR],[632.3,638.3,90,8,2.4,BR],
         [602.3,733.3,90,8,2.6,BR],[604,756.7,90,8,2.6,PU],[592.7,745,0,7,2.2],[614,744,0,7,2.2],
         [831.7,616.7,90,9,2.6],[820,619.3,30,9,2.6],[844,620,-35,9,2.6],[831.7,625,0,9,2.2,BR],[820.7,633.3,-30,9,2.6],[842.7,632.7,30,9,2.6],[832.3,636.7,90,9,2.6],
         [785,671.7,15,9,2.4,BR],[800,675.7,0,8,2.4],[812.3,668.3,-30,8,2.4],[818.3,677.7,55,8,2.6,BR],[797.7,687.7,90,8,2.6,BR]], BW, 'solvation-molecule');
  el('circle', { cx: 602.7, cy: 745.3, r: 2, fill: '#18c04a' }, g, 'cluster-proton');

  // dashed circles
  [[645.7,685.7,39],[687,748,37],[733,644,37],[835.7,726.7,37]].forEach(c => {
    el('circle', { cx: c[0], cy: c[1], r: c[2], fill: 'none', stroke: '#c2444f', 'stroke-width': 1, 'stroke-dasharray': '6 3.5' }, g, 'solvation-shell-outline');
  });

  // ions
  hIon(540, 653, 32); hIon(627.7, 670, 30); hIon(521.7, 776, 33); hIon(659.3, 750.7, 26); hIon(724.3, 629, 26); hIon(823, 716.7, 24);
  kIon(514.3, 635.7, 37); kIon(636.7, 692.3, 30); kIon(530, 757.3, 37); kIon(746.7, 648.3, 23); kIon(844, 736, 26); kIon(703.3, 758.3, 23);

  // charge-transfer arcs
  [['M520 622 Q495 612 472 625.7'], ['M526.7 674.3 Q503 662 477 677.7'], ['M531.7 746.7 Q503 750 496.7 728.3']].forEach(p => {
    el('path', { d: p[0], fill: 'none', stroke: '#2268a8', 'stroke-width': 1.5, 'stroke-dasharray': '7 4', 'marker-end': 'url(#arD)' }, g, 'charge-transfer-arc');
  });

  redArrow(693, 666.7, 640); redArrow(603.3, 576.7, 685.7); redArrow(650, 625, 764); redArrow(794, 767.3, 717.3);

  txt(g, 592.3, 602.7, '-40°C Accelerated Kinetics', { size: 16.4, color: '#c2434f' }, 'kinetics-heading');
  txt(g, 476.7, 802.7, '2. Rapid charge transfer', { size: 16.5, color: '#2a6aa3' }, 'charge-transfer-caption');
  txt(g, 724.3, 802.7, '1. Fast ions diffusion', { size: 16.5, color: '#c2434f' }, 'ion-diffusion-caption');
  redArrow(716, 690, 797.7, 2);
  el('path', { d: 'M468 799 Q462 795 447 794 Q440 794 431 800', fill: 'none', stroke: '#2268a8', 'stroke-width': 1.6, 'stroke-dasharray': '7 4', 'marker-end': 'url(#arD)' }, g, 'charge-transfer-caption-arrow');

  // species legend
  el('circle', { cx: 426.3, cy: 821, r: 3, fill: 'url(#gDot)' }, g, 'legend-proton');
  txt(g, 442, 825, 'H^{+}', { size: 8.8 }, 'legend-proton-label');
  el('circle', { cx: 467.7, cy: 821, r: 4.4, fill: 'url(#kDot)' }, g, 'legend-potassium');
  txt(g, 486, 825, 'K^{+}', { size: 8.8 }, 'legend-potassium-label');
  water([[519.3,819,0,11,2.8],[581.7,819,0,11,2.8,'#cba07e'],[645.7,819,0,11,2.8,PU],[711.7,819,0,10.5,2.8,BR]], BW, 'legend-molecule');
  txt(g, 542, 825, 'H_{2}O', { size: 8.8 }, 'legend-water-label');
  txt(g, 604.3, 825, 'NO_{3}^{-}', { size: 8.8 }, 'legend-nitrate-label');
  txt(g, 668.3, 825, 'SO_{4}^{2-}', { size: 8.8 }, 'legend-sulfate-label');
  txt(g, 734, 825, 'βCD', { size: 8.8 }, 'legend-bcd-label');
  mxene(787.3, 820.7, 46, 12, 'legend-mxene', cathodePal);
  txt(g, 826, 825, 'Ti_{3}C_{2}T_{x}', { size: 8.8 }, 'legend-mxene-label');
  const lg = el('g', {}, g, 'legend-rgo');
  [[873,823],[884,819],[895,823],[906,819],[878,817],[890,825],[901,826]].forEach(p => { hex(lg, p[0], p[1], 12, 6, 'legend-rgo-hexagon'); });
  txt(g, 925, 825, 'rGO', { size: 8.8 }, 'legend-rgo-label');
})();

// ---------- watermark ----------
(function () {
  const g = el('g', {}, root, 'watermark');
  el('path', { d: 'M12 807 Q10 818 16 822 M20 802 L20 823', fill: 'none', stroke: '#dcdcdc', 'stroke-width': 2.6 }, g, 'watermark-logo-stem');
  el('circle', { cx: 32, cy: 804, r: 4, fill: 'none', stroke: '#dcdcdc', 'stroke-width': 1.6 }, g, 'watermark-logo-ring');
  el('circle', { cx: 42, cy: 804, r: 4, fill: 'none', stroke: '#dcdcdc', 'stroke-width': 1.6 }, g, 'watermark-logo-ring');
  el('path', { d: 'M24 812 Q28 824 42 820', fill: 'none', stroke: '#dcdcdc', 'stroke-width': 2 }, g, 'watermark-logo-swoosh');
  const t = txt(g, 53, 821, '大数跨境', { size: 21.6, color: '#eeeeee' }, 'watermark-text');
  t.setAttribute('stroke', '#cccccc');
  t.setAttribute('stroke-width', '0.5');
})();
</script>
</body>
</html>
